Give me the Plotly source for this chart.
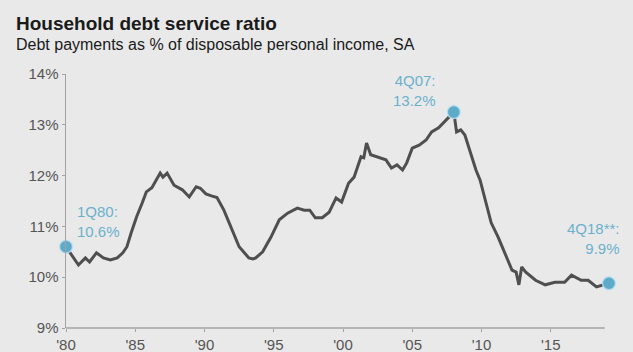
import plotly.graph_objects as go

# Quarterly household debt service ratio (% of disposable personal income)
years = [1980.0, 1980.4, 1980.9, 1981.4, 1981.7, 1982.2, 1982.7, 1983.2, 1983.7, 1984.1,
         1984.4, 1984.7, 1985.1, 1985.5, 1985.8, 1986.2, 1986.5, 1986.8, 1987.0, 1987.3,
         1987.8, 1988.4, 1988.9, 1989.4, 1989.7, 1990.1, 1990.5, 1990.9, 1991.4, 1992.0,
         1992.5, 1993.2, 1993.5, 1993.7, 1994.2, 1994.8, 1995.4, 1996.0, 1996.7, 1997.2,
         1997.6, 1998.0, 1998.5, 1999.0, 1999.5, 1999.9, 2000.4, 2000.8, 2001.3, 2001.5,
         2001.7, 2002.0, 2002.6, 2003.1, 2003.5, 2003.9, 2004.3, 2004.6, 2005.0, 2005.5,
         2006.0, 2006.4, 2006.9, 2007.3, 2008.0, 2008.2, 2008.5, 2008.8, 2009.3, 2009.6,
         2009.9, 2010.3, 2010.7, 2011.2, 2011.7, 2012.2, 2012.5, 2012.7, 2012.9, 2013.2,
         2013.9, 2014.6, 2015.3, 2016.0, 2016.5, 2017.2, 2017.7, 2018.3, 2019.2]
ratio = [10.6, 10.45, 10.24, 10.38, 10.3, 10.48, 10.38, 10.34, 10.38, 10.48,
         10.6, 10.87, 11.19, 11.46, 11.68, 11.76, 11.9, 12.05, 11.97, 12.05,
         11.81, 11.72, 11.58, 11.78, 11.75, 11.64, 11.6, 11.57, 11.32, 10.93,
         10.6, 10.38, 10.36, 10.38, 10.5, 10.79, 11.13, 11.26, 11.36, 11.32,
         11.32, 11.17, 11.17, 11.28, 11.56, 11.48, 11.85, 11.97, 12.37, 12.35,
         12.64, 12.41, 12.35, 12.31, 12.15, 12.21, 12.11, 12.25, 12.54, 12.6,
         12.7, 12.86, 12.94, 13.06, 13.25, 12.86, 12.9, 12.8, 12.37, 12.11,
         11.91, 11.46, 11.07, 10.79, 10.48, 10.14, 10.1, 9.85, 10.2, 10.1,
         9.94, 9.85, 9.9, 9.9, 10.04, 9.94, 9.94, 9.81, 9.88]

# Highlighted points
hl_years = [1980.0, 2008.0, 2019.2]
hl_values = [10.6, 13.25, 9.88]
hl_labels = ["1Q80:<br>10.6%", "4Q07:<br>13.2%", "4Q18**:<br>9.9%"]

x_tick_vals = [1980, 1985, 1990, 1995, 2000, 2005, 2010, 2015]
x_tick_text = ["'80", "'85", "'90", "'95", "'00", "'05", "'10", "'15"]
y_tick_vals = [9, 10, 11, 12, 13, 14]
y_tick_text = ["9%", "10%", "11%", "12%", "13%", "14%"]

BG = "#e9e9e9"
LINE = "#4f4f4f"
DOT = "#5eabc9"
LABEL = "#6cb1cc"
AXIS = "#a3a3a3"
TXT = "#555555"
FONT = "Liberation Sans, Arial, sans-serif"

W, H = 633, 352
L, R, T, B = 66, 22, 74, 24          # plot area: x 66..611, y 74..328
pw, ph = W - L - R, H - T - B
X_MIN, X_MAX = 1980, 2019.35
AXIS_END = 2018.9                     # bottom axis line stops short of the last point

fig = go.Figure()
fig.add_trace(go.Scatter(x=years, y=ratio, mode="lines",
                         line=dict(color=LINE, width=3), cliponaxis=False,
                         hoverinfo="skip"))
fig.add_trace(go.Scatter(x=hl_years, y=hl_values, mode="markers",
                         marker=dict(color=DOT, size=13,
                                     line=dict(color="rgba(190,225,240,0.8)", width=1.5)),
                         cliponaxis=False, hoverinfo="skip"))

# bottom axis line
fig.add_shape(type="line", xref="x", yref="paper", x0=X_MIN, x1=AXIS_END, y0=0, y1=0,
              line=dict(color=AXIS, width=1.5), layer="below")

# Annotation texts near highlighted points
fig.add_annotation(x=1980.65, y=11.09, xref="x", yref="y", text=hl_labels[0],
                   showarrow=False, xanchor="left", yanchor="middle", align="left",
                   font=dict(family=FONT, size=15, color=LABEL))
fig.add_annotation(x=2006.85, y=13.68, xref="x", yref="y", text=hl_labels[1],
                   showarrow=False, xanchor="right", yanchor="middle", align="right",
                   font=dict(family=FONT, size=15, color=LABEL))
fig.add_annotation(x=1.0, y=10.77, xref="paper", yref="y", text=hl_labels[2],
                   xshift=(622 - (W - R)), showarrow=False, xanchor="right",
                   yanchor="middle", align="right",
                   font=dict(family=FONT, size=15, color=LABEL))

# Title & subtitle
fig.add_annotation(xref="paper", yref="paper", x=(14 - L) / pw, y=1 + (T - 11) / ph,
                   xanchor="left", yanchor="top", showarrow=False,
                   text="<b>Household debt service ratio</b>",
                   font=dict(family=FONT, size=19, color="#1a1a1a"))
fig.add_annotation(xref="paper", yref="paper", x=(14 - L) / pw, y=1 + (T - 34) / ph,
                   xanchor="left", yanchor="top", showarrow=False,
                   text="Debt payments as % of disposable personal income, SA",
                   font=dict(family=FONT, size=16, color="#1a1a1a"))

fig.update_layout(
    template="none",
    width=W, height=H,
    margin=dict(l=L, r=R, t=T, b=B, pad=0),
    paper_bgcolor=BG, plot_bgcolor=BG,
    showlegend=False,
    hovermode=False,
    font=dict(family=FONT, color=TXT),
    xaxis=dict(range=[X_MIN, X_MAX], tickvals=x_tick_vals, ticktext=x_tick_text,
               automargin=False, showgrid=False, zeroline=False, showline=False,
               ticks="outside", ticklen=3, tickcolor=AXIS, tickwidth=1,
               tickfont=dict(family=FONT, size=15, color=TXT)),
    yaxis=dict(range=[9, 14], tickvals=y_tick_vals, ticktext=y_tick_text,
               automargin=False, showgrid=False, zeroline=False, showline=True,
               linecolor=AXIS, linewidth=1.5,
               ticks="outside", ticklen=3, tickcolor=AXIS, tickwidth=1,
               tickfont=dict(family=FONT, size=15, color=TXT)),
)

fig.write_html("out.html",
               config={"displayModeBar": False, "staticPlot": True},
               post_script="document.body.style.margin='0';"
                           "document.body.style.overflow='hidden';"
                           "document.body.style.background='#e9e9e9';")
